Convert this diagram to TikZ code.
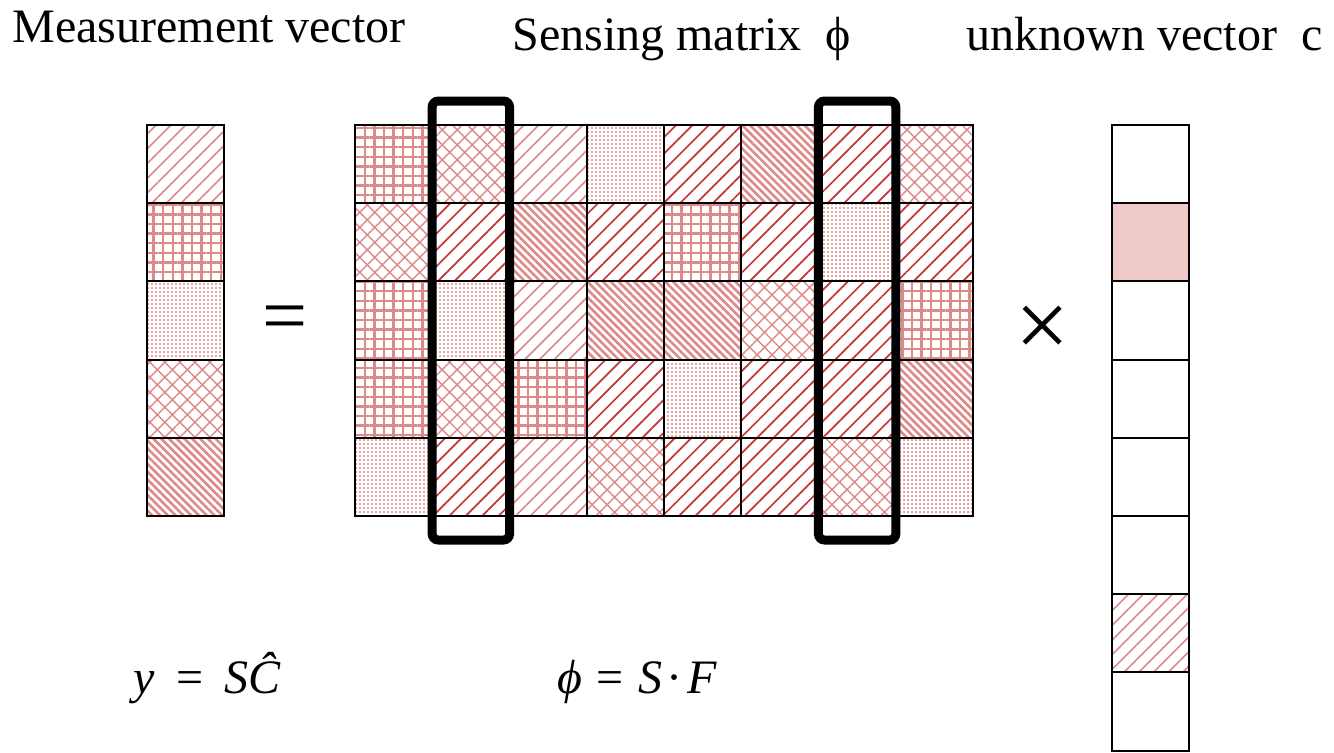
\documentclass[tikz,border=0pt]{standalone}
\usepackage{fontspec}
\setmainfont{Liberation Serif}
\usepackage{tikz}
\usetikzlibrary{positioning,patterns.meta,fit}
\definecolor{hatchpink}{RGB}{222,136,136}
\definecolor{hatchred}{RGB}{198,52,52}

\begin{document}
\begin{tikzpicture}[x=0.5pt, y=0.5pt, font=\fontsize{24}{28}\selectfont,
  cell/.style={draw, line width=1pt, fill=white, minimum width=38.65pt, minimum height=39.1pt, inner sep=0pt, outer sep=0pt},
  pa/.style={pattern={Lines[angle=45,distance=5.2pt,line width=0.8pt]}, pattern color=hatchpink},
  pb/.style={pattern={Hatch[angle=0,distance=4.8pt,line width=1.2pt]}, pattern color=hatchpink},
  pc/.style={pattern={Dots[distance=2pt,radius=0.62pt]}, pattern color=hatchpink},
  pd/.style={pattern={Hatch[angle=45,distance=5.3pt,line width=0.7pt]}, pattern color=hatchpink},
  pe/.style={pattern={Lines[angle=-45,distance=2.75pt,line width=1.3pt]}, pattern color=hatchpink},
  pf/.style={pattern={Lines[angle=45,distance=5.8pt,line width=0.85pt]}, pattern color=hatchred},
  pg/.style={fill=hatchpink!45},
  pn/.style={},
  colbox/.style={draw, line width=4.5pt, rounded corners=3pt, inner xsep=0pt, inner ysep=12pt}]
\useasboundingbox (0,0) rectangle (1334,752);

% titles
\node[anchor=base west, inner sep=0pt] (ttl-y) at (12,710) {Measurement vector};
\node[anchor=base west, inner sep=0pt] (ttl-phi) at (512,702) {Sensing matrix\ \ ϕ};
\node[anchor=base west, inner sep=0pt] (ttl-c) at (966,702) {unknown vector\ \ c};

% measurement vector y
\foreach \pat [count=\r] in {pa,pb,pc,pd,pe}
  \node[cell,\pat] (y-\r) at (185.5,{627-78.2*(\r-0.5)}) {};

% sensing matrix
\foreach \row [count=\r] in {{pb,pd,pa,pc,pf,pe,pf,pd},{pd,pf,pe,pf,pb,pf,pc,pf},{pb,pc,pa,pe,pe,pd,pf,pb},{pb,pd,pb,pf,pc,pf,pf,pe},{pc,pf,pa,pd,pf,pf,pd,pc}}
  \foreach \pat [count=\c] in \row
    \node[cell,\pat] (m-\r-\c) at ({355+77.25*(\c-0.5)},{627-78.2*(\r-0.5)}) {};
\node[colbox, fit=(m-1-2)(m-5-2)] (sel-2) {};
\node[colbox, fit=(m-1-7)(m-5-7)] (sel-7) {};

% unknown vector c
\foreach \pat [count=\r] in {pn,pg,pn,pn,pn,pn,pa,pn}
  \node[cell,\pat] (c-\r) at (1150.5,{627-78.2*(\r-0.5)}) {};

% operators
\node[font=\fontsize{40}{44}\selectfont] (op-eq) at (285,428) {=};
\node[font=\fontsize{48}{52}\selectfont] (op-times) at (1043,420) {×};

% formulas
\node[anchor=base west, inner sep=0pt] (eq-y) at (133,59) {\textit{y}\hspace{0.45em}=\hspace{0.45em}\textit{S\^{C}}};
\node[anchor=base west, inner sep=0pt] (eq-phi) at (557,59) {\textit{ϕ}\hspace{0.3em}=\hspace{0.3em}\textit{S}\hspace{0.1em}·\hspace{0.1em}\textit{F}};
\end{tikzpicture}
\end{document}
